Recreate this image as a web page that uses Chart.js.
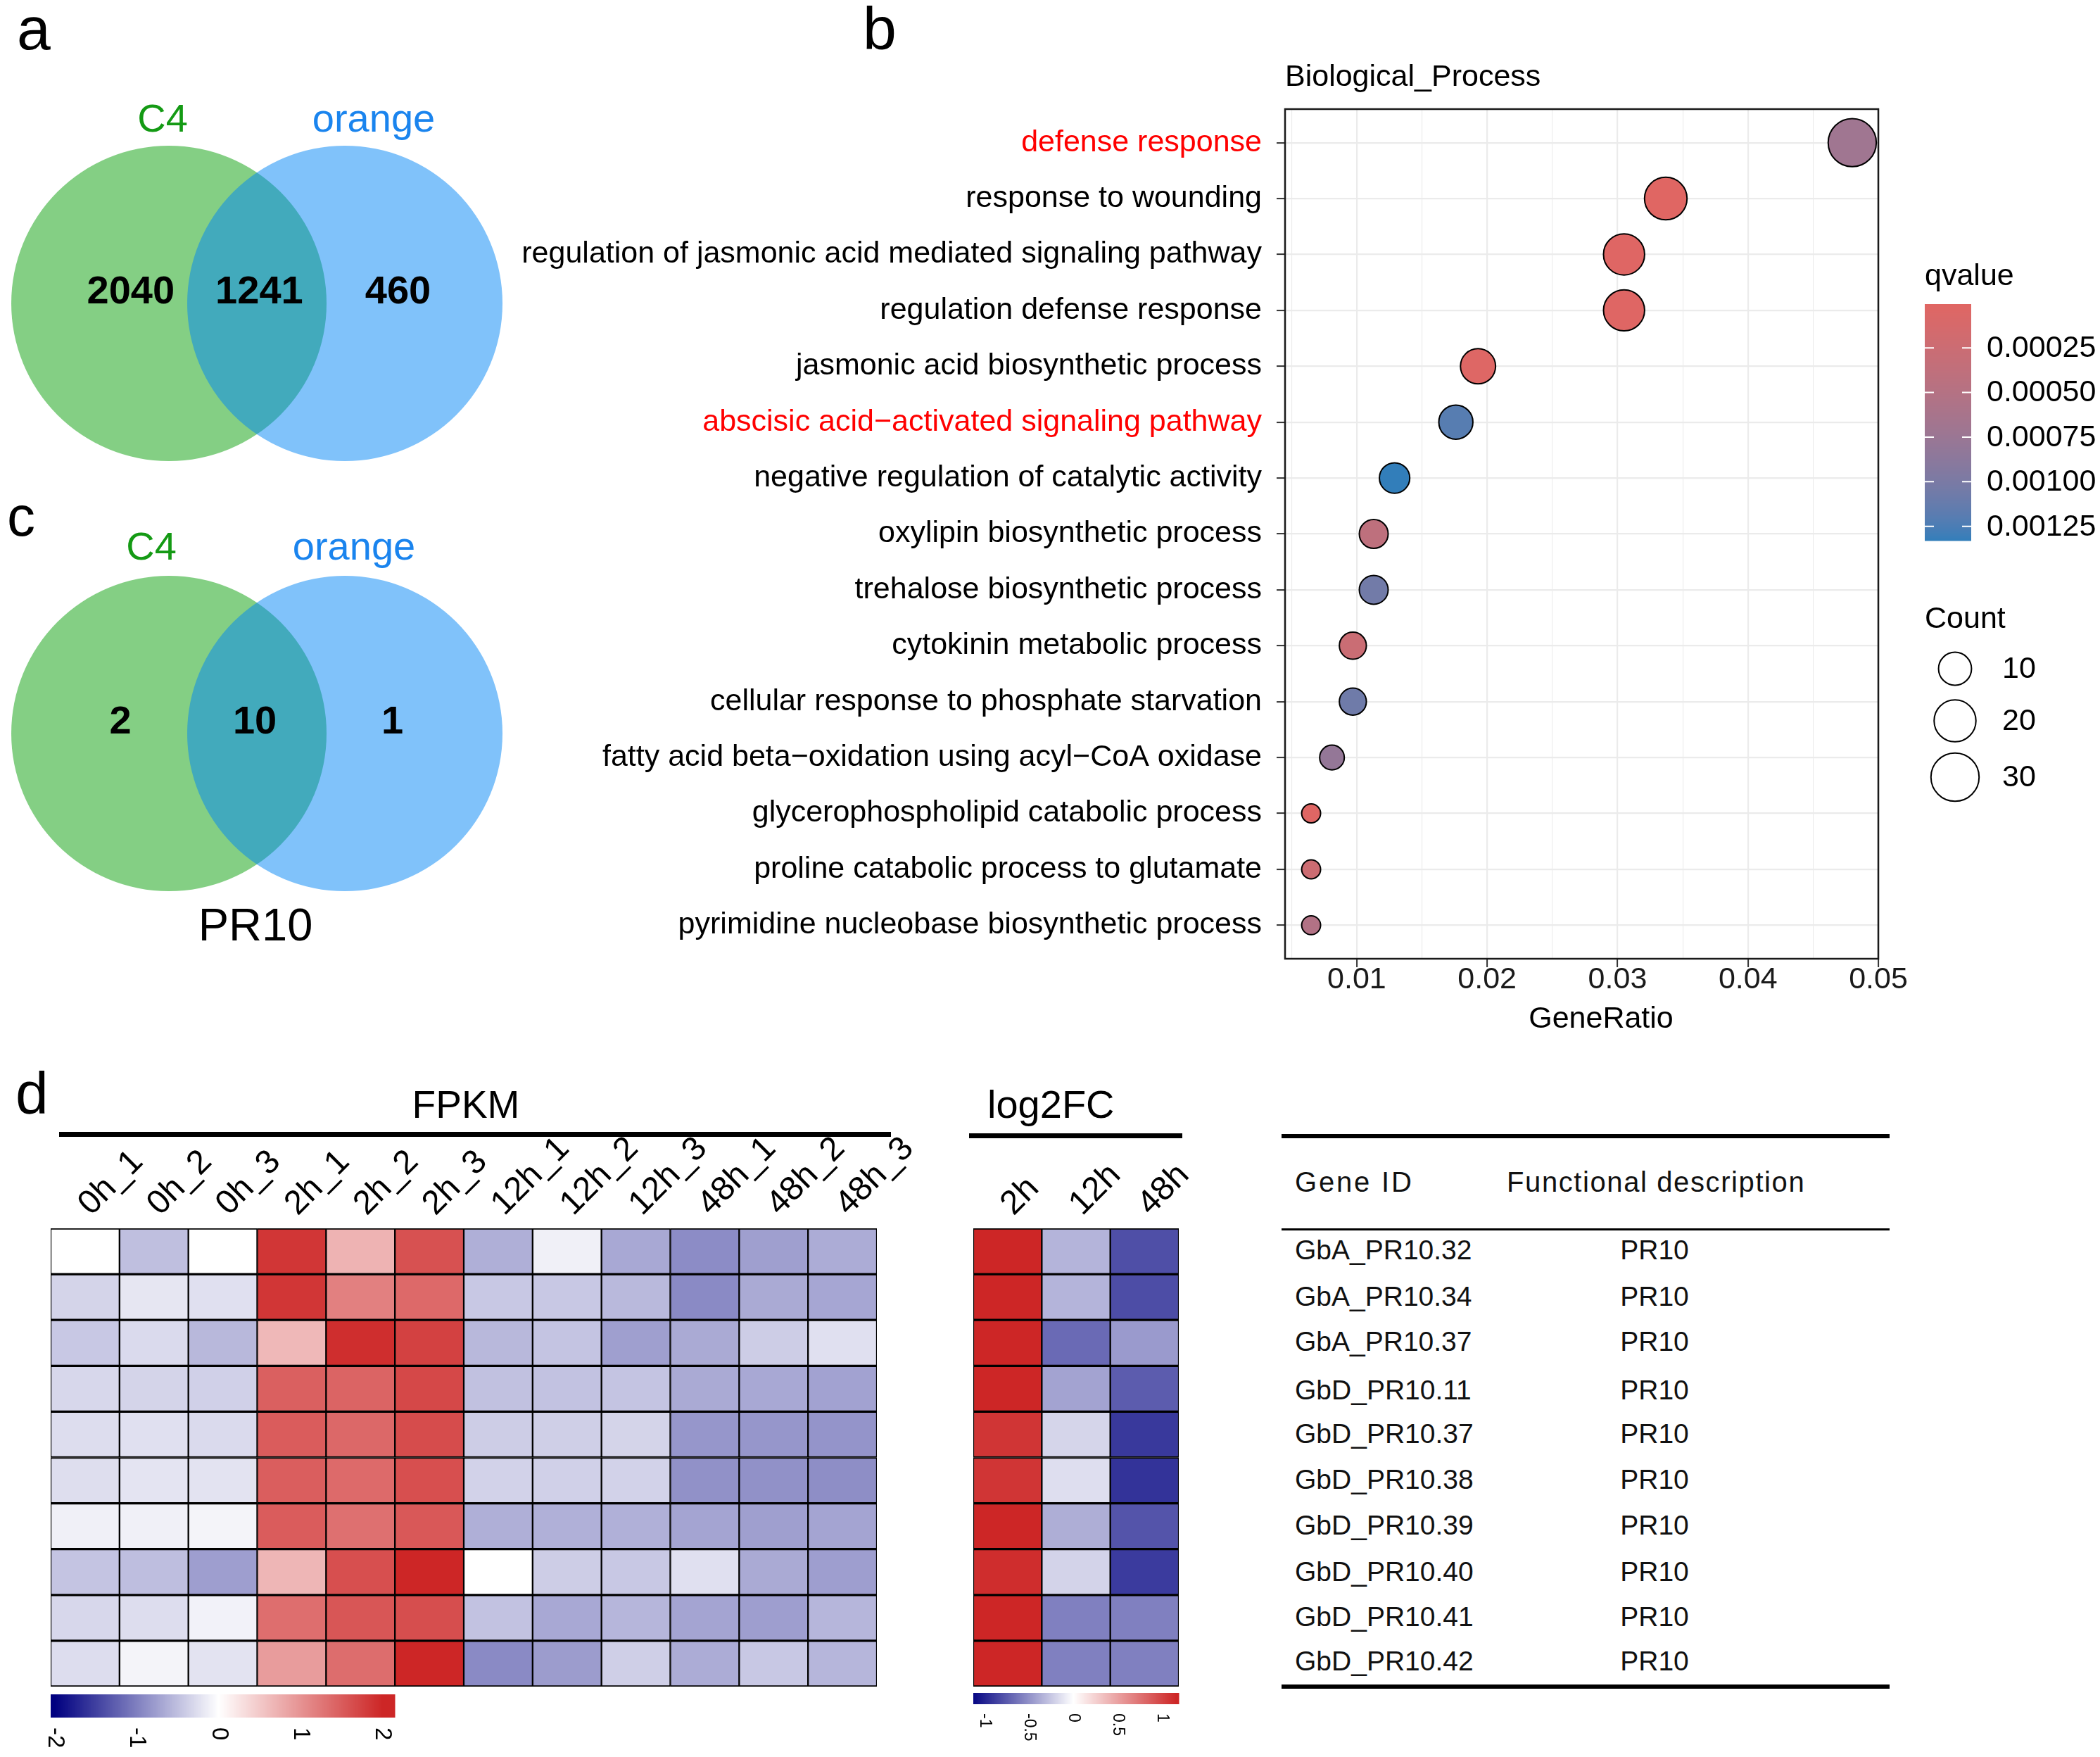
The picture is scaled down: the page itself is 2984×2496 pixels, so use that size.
<!DOCTYPE html>
<html>
<head>
<meta charset="utf-8">
<script src="https://cdn.jsdelivr.net/npm/chart.js@4.4.1/dist/chart.umd.min.js"></script>
<style>
  html, body { margin:0; padding:0; background:#fff; }
  body { position:relative; width:2984px; height:2496px; overflow:hidden; font-family:'Liberation Sans', Arial, sans-serif; }
  canvas { position:absolute; }
  .rule { position:absolute; background:#000; }
</style>
</head>
<body>
<canvas id="vennA" width="740" height="560" style="left:0;top:150px;"></canvas>
<canvas id="vennC" width="740" height="560" style="left:0;top:761px;"></canvas>
<canvas id="dot" width="2284" height="1500" style="left:700px;top:0;"></canvas>
<canvas id="fpkm" width="1300" height="896" style="left:0;top:1600px;"></canvas>
<canvas id="fc" width="400" height="896" style="left:1340px;top:1600px;"></canvas>
<script>
// ---------------- DATA ----------------
const VENN_SETS = ['C4', 'orange'];
const VENN_A_COUNTS = [2040, 1241, 460];
const VENN_C_COUNTS = [2, 10, 1];
const VENN_C_TITLE = 'PR10';

const TERMS = [
  'defense response',
  'response to wounding',
  'regulation of jasmonic acid mediated signaling pathway',
  'regulation defense response',
  'jasmonic acid biosynthetic process',
  'abscisic acid\u2212activated signaling pathway',
  'negative regulation of catalytic activity',
  'oxylipin biosynthetic process',
  'trehalose biosynthetic process',
  'cytokinin metabolic process',
  'cellular response to phosphate starvation',
  'fatty acid beta\u2212oxidation using acyl\u2212CoA oxidase',
  'glycerophospholipid catabolic process',
  'proline catabolic process to glutamate',
  'pyrimidine nucleobase biosynthetic process'
];
const HIGHLIGHTED = ['defense response', 'abscisic acid\u2212activated signaling pathway'];
const GENE_RATIO = [0.0480, 0.0337, 0.0305, 0.0305, 0.0193, 0.0176, 0.0129, 0.0113, 0.0113, 0.0097, 0.0097, 0.0081, 0.0065, 0.0065, 0.0065];
const COUNT      = [30, 21, 19, 19, 12, 11, 8, 7, 7, 6, 6, 5, 4, 4, 4];
const QVALUE     = [0.00070, 0.000005, 0.00002, 0.00002, 0.00003, 0.00120, 0.00133, 0.00040, 0.00105, 0.00027, 0.00107, 0.00080, 0.00002, 0.00024, 0.00052];
const X_MAJOR = [0.01, 0.02, 0.03, 0.04, 0.05];
const X_MINOR = [0.005, 0.015, 0.025, 0.035, 0.045];
const Q_BREAKS = [0.00025, 0.00050, 0.00075, 0.00100, 0.00125];
const COUNT_BREAKS = [10, 20, 30];

const FPKM_COLS = ['0h_1','0h_2','0h_3','2h_1','2h_2','2h_3','12h_1','12h_2','12h_3','48h_1','48h_2','48h_3'];
const FPKM = [
  [ 0.00,-0.50, 0.00, 1.85, 0.70, 1.60,-0.63,-0.12,-0.68,-0.90,-0.75,-0.65],
  [-0.34,-0.20,-0.24, 1.85, 1.17, 1.38,-0.43,-0.43,-0.55,-0.92,-0.67,-0.70],
  [-0.43,-0.29,-0.56, 0.65, 1.93, 1.75,-0.56,-0.46,-0.75,-0.67,-0.39,-0.24],
  [-0.31,-0.34,-0.37, 1.47, 1.43, 1.69,-0.49,-0.48,-0.46,-0.67,-0.68,-0.73],
  [-0.27,-0.24,-0.29, 1.50, 1.39, 1.65,-0.39,-0.38,-0.34,-0.82,-0.82,-0.84],
  [-0.26,-0.21,-0.22, 1.48, 1.37, 1.62,-0.35,-0.37,-0.35,-0.86,-0.86,-0.89],
  [-0.12,-0.12,-0.09, 1.50, 1.32, 1.54,-0.63,-0.62,-0.62,-0.71,-0.75,-0.71],
  [-0.46,-0.51,-0.76, 0.67, 1.62, 2.00, 0.00,-0.39,-0.43,-0.24,-0.67,-0.76],
  [-0.31,-0.27,-0.10, 1.34, 1.56, 1.63,-0.48,-0.68,-0.57,-0.71,-0.76,-0.57],
  [-0.27,-0.09,-0.22, 0.91, 1.35, 2.00,-0.92,-0.78,-0.38,-0.65,-0.43,-0.57]
];
const FPKM_LEGEND_TICKS = [-2, -1, 0, 1, 2];

const FC_COLS = ['2h', '12h', '48h'];
const LOG2FC = [
  [1.20,-0.34,-0.80],
  [1.20,-0.34,-0.81],
  [1.20,-0.68,-0.46],
  [1.20,-0.42,-0.74],
  [1.08,-0.19,-0.90],
  [1.08,-0.15,-0.93],
  [1.20,-0.37,-0.78],
  [1.12,-0.20,-0.89],
  [1.20,-0.58,-0.58],
  [1.20,-0.58,-0.58]
];
const FC_LEGEND_TICKS = [-1, -0.5, 0, 0.5, 1];

const GENE_IDS = ['GbA_PR10.32','GbA_PR10.34','GbA_PR10.37','GbD_PR10.11','GbD_PR10.37','GbD_PR10.38','GbD_PR10.39','GbD_PR10.40','GbD_PR10.41','GbD_PR10.42'];
const GENE_DESC = ['PR10','PR10','PR10','PR10','PR10','PR10','PR10','PR10','PR10','PR10'];

// ---------------- HELPERS ----------------
const FONT = "'Liberation Sans', Arial, sans-serif";
Chart.defaults.font.family = FONT;
Chart.defaults.color = '#000';
const W = 2984;

function txt(s, x, baseline, size, o = {}) {
  const d = document.createElement('div');
  d.textContent = s;
  d.style.cssText = `position:absolute;white-space:nowrap;font-family:${FONT};font-size:${size}px;line-height:1;` +
    `color:${o.color || '#000'};font-weight:${o.weight || 'normal'};letter-spacing:${o.spacing || 0}px;top:${baseline - 0.8465 * size}px;`;
  if (o.align === 'center') { d.style.left = x + 'px'; d.style.transform = 'translateX(-50%)'; }
  else if (o.align === 'right') { d.style.right = (W - x) + 'px'; }
  else d.style.left = x + 'px';
  document.body.appendChild(d);
}
function rule(x, y, w, h) {
  const d = document.createElement('div');
  d.className = 'rule';
  d.style.left = x + 'px'; d.style.top = y + 'px'; d.style.width = w + 'px'; d.style.height = h + 'px';
  document.body.appendChild(d);
}
function hex(h) { return [1,3,5].map(i => parseInt(h.substr(i, 2), 16)); }
function toLin(c) { c /= 255; return c <= 0.04045 ? c / 12.92 : Math.pow((c + 0.055) / 1.055, 2.4); }
function fromLin(c) { const v = c <= 0.0031308 ? 12.92 * c : 1.055 * Math.pow(c, 1/2.4) - 0.055; return Math.max(0, Math.min(255, Math.round(v * 255))); }
function rgb2lab(rgb) {
  const [r, g, b] = rgb.map(toLin);
  const X = (0.4124*r + 0.3576*g + 0.1805*b) / 0.95047, Y = 0.2126*r + 0.7152*g + 0.0722*b, Z = (0.0193*r + 0.1192*g + 0.9505*b) / 1.08883;
  const f = t => t > 0.008856 ? Math.cbrt(t) : 7.787 * t + 16/116;
  const fx = f(X), fy = f(Y), fz = f(Z);
  return [116*fy - 16, 500*(fx - fy), 200*(fy - fz)];
}
function lab2rgb([L, a, b]) {
  const fy = (L + 16) / 116, fx = fy + a / 500, fz = fy - b / 200;
  const fi = t => t*t*t > 0.008856 ? t*t*t : (t - 16/116) / 7.787;
  const X = fi(fx) * 0.95047, Y = fi(fy), Z = fi(fz) * 1.08883;
  const r = 3.2406*X - 1.5372*Y - 0.4986*Z, g = -0.9689*X + 1.8758*Y + 0.0415*Z, bb = 0.0557*X - 0.2040*Y + 1.0570*Z;
  return [fromLin(r), fromLin(g), fromLin(bb)];
}
const Q_LOW = rgb2lab(hex('#e06663')), Q_HIGH = rgb2lab(hex('#327eba'));
const Q_MIN = Math.min(...QVALUE), Q_MAX = Math.max(...QVALUE);
function qColor(q) {
  const t = Math.max(0, Math.min(1, (q - Q_MIN) / (Q_MAX - Q_MIN)));
  const lab = Q_LOW.map((v, i) => v + (Q_HIGH[i] - v) * t);
  const [r, g, b] = lab2rgb(lab);
  return `rgb(${r},${g},${b})`;
}
const C_MIN = Math.min(...COUNT), C_MAX = Math.max(...COUNT);
function dotDiameter(c) { // ggplot area palette, range 3..8
  const s = 3 + 5 * Math.sqrt(Math.max(0, (c - C_MIN) / (C_MAX - C_MIN)));
  return 4 + 8.3 * s;
}
function divColor(v, lim) { // navy - white - firebrick3
  const navy = [0, 0, 128], white = [255, 255, 255], red = [205, 38, 38];
  let t = Math.max(-1, Math.min(1, v / lim));
  const end = t < 0 ? navy : red; t = Math.abs(t);
  const c = white.map((w, i) => Math.round(w + (end[i] - w) * t));
  return `rgb(${c[0]},${c[1]},${c[2]})`;
}
const FPKM_LIM = 2.0, FPKM_BAR = [-2.05, 2.15];
const FC_LIM = 1.16, FC_BAR = [-1.13, 1.19];

// ---------------- PANEL LETTERS & TEXT ----------------
txt('a', 24, 70, 86);
txt('b', 1226, 70, 86);
txt('c', 10, 762, 80);
txt('d', 22, 1582, 84);

const GREEN_TXT = '#149a14', BLUE_TXT = '#1a84ee';
txt(VENN_SETS[0], 231, 187, 56, {align: 'center', color: GREEN_TXT});
txt(VENN_SETS[1], 531, 187, 56, {align: 'center', color: BLUE_TXT});
txt(VENN_SETS[0], 215, 795, 56, {align: 'center', color: GREEN_TXT});
txt(VENN_SETS[1], 503, 795, 56, {align: 'center', color: BLUE_TXT});
txt(VENN_C_TITLE, 363, 1336, 65, {align: 'center'});

txt('FPKM', 662, 1589, 55, {align: 'center'});
rule(84, 1608, 1182, 7);
txt('log2FC', 1403, 1588, 56);
rule(1377, 1610, 303, 7);

// table
rule(1821, 1611, 864, 6);
rule(1821, 1745, 864, 3);
rule(1821, 2393, 864, 6);
txt('Gene ID', 1840, 1693, 40, {spacing: 2.8, color: '#111'});
txt('Functional description', 2141, 1693, 40, {spacing: 1.6, color: '#111'});
const ROW_CENTERS = [1775, 1841, 1905, 1974, 2036, 2101, 2166, 2232, 2296, 2359];
GENE_IDS.forEach((g, i) => {
  txt(g, 1840, ROW_CENTERS[i] + 14, 39, {color: '#111'});
  txt(GENE_DESC[i], 2351, ROW_CENTERS[i] + 14, 39, {align: 'center', color: '#111'});
});

// ---------------- VENN (bubble) ----------------
const VENN_CX = [-0.558, 0.558];
const VENN_R_PX = 224;
const VENN_FILL = ['rgba(9,159,9,0.5)', 'rgba(1,133,245,0.5)'];
const VENN_ORDER = [1, 0]; // blue set drawn on top of green
function makeVenn(id, counts, labelX, labelY) {
  const labels = {
    id: 'vennLabels',
    afterDatasetsDraw(chart) {
      const {ctx, scales: {x, y}} = chart;
      ctx.save();
      ctx.font = `bold 56px ${FONT}`; ctx.fillStyle = '#000'; ctx.textAlign = 'center'; ctx.textBaseline = 'middle';
      counts.forEach((c, i) => ctx.fillText(String(c), x.getPixelForValue(labelX[i]), y.getPixelForValue(labelY)));
      ctx.restore();
    }
  };
  new Chart(document.getElementById(id), {
    type: 'bubble',
    data: { datasets: VENN_SETS.map((s, i) => ({
      label: s, data: [{x: VENN_CX[i], y: 0}], order: VENN_ORDER[i],
      backgroundColor: VENN_FILL[i], borderWidth: 0, borderColor: 'rgba(0,0,0,0)',
      radius: VENN_R_PX, hoverRadius: 0, clip: false
    })) },
    options: {
      responsive: false, animation: false, devicePixelRatio: 1, events: [],
      layout: {padding: 0, autoPadding: false},
      plugins: {legend: {display: false}, tooltip: {enabled: false}},
      scales: {
        x: {type: 'linear', display: false, min: -1.6295, max: 1.674},
        y: {type: 'linear', display: false, min: -1.2455, max: 1.2545}
      }
    },
    plugins: [labels]
  });
}
makeVenn('vennA', VENN_A_COUNTS, [-0.80, 0.015, 0.895], 0.07);
makeVenn('vennC', VENN_C_COUNTS, [-0.866, -0.013, 0.86], 0.067);

// ---------------- DOT PLOT ----------------
const DOT_LEFT = 700;
const X_GRID = [...X_MAJOR, ...X_MINOR].sort((a, b) => a - b);
const isMajor = v => X_MAJOR.some(m => Math.abs(m - v) < 1e-9);
const dotDecor = {
  id: 'dotDecor',
  afterDraw(chart) {
    const ctx = chart.ctx, a = chart.chartArea;
    ctx.save();
    ctx.strokeStyle = '#1a1a1a'; ctx.lineWidth = 2.5;
    ctx.strokeRect(a.left, a.top, a.right - a.left, a.bottom - a.top);
    ctx.fillStyle = '#000'; ctx.font = `43px ${FONT}`; ctx.textBaseline = 'alphabetic';
    ctx.textAlign = 'left';
    ctx.fillText('Biological_Process', a.left, 122);
    ctx.textAlign = 'center';
    ctx.fillText('GeneRatio', 2275 - DOT_LEFT, 1460);
    // qvalue colorbar
    const bx = 2735 - DOT_LEFT, bw = 66, by0 = 432, by1 = 768;
    ctx.textAlign = 'left';
    ctx.fillText('qvalue', bx, 405);
    for (let y = by0; y < by1; y++) {
      const q = Q_MIN + (y + 0.5 - by0) / (by1 - by0) * (Q_MAX - Q_MIN);
      ctx.fillStyle = qColor(q);
      ctx.fillRect(bx, y, bw, 1.5);
    }
    ctx.strokeStyle = '#fff'; ctx.lineWidth = 2;
    ctx.fillStyle = '#000'; ctx.textBaseline = 'middle';
    Q_BREAKS.forEach(q => {
      const y = by0 + (q - Q_MIN) / (Q_MAX - Q_MIN) * (by1 - by0);
      ctx.beginPath(); ctx.moveTo(bx, y); ctx.lineTo(bx + 13, y); ctx.moveTo(bx + bw - 13, y); ctx.lineTo(bx + bw, y); ctx.stroke();
      ctx.fillText(q.toFixed(5), 2823 - DOT_LEFT, y + 1);
    });
    // count legend
    ctx.textBaseline = 'alphabetic';
    ctx.fillText('Count', bx, 892);
    const keyY = [950, 1024, 1104];
    ctx.strokeStyle = '#000'; ctx.lineWidth = 2;
    COUNT_BREAKS.forEach((c, i) => {
      const r = (dotDiameter(c) - 2) / 2;
      ctx.beginPath(); ctx.arc(2778 - DOT_LEFT, keyY[i], r, 0, Math.PI * 2);
      ctx.fillStyle = '#fff'; ctx.fill(); ctx.stroke();
      ctx.fillStyle = '#000'; ctx.textBaseline = 'middle';
      ctx.fillText(String(c), 2845 - DOT_LEFT, keyY[i] + 1);
    });
    ctx.restore();
  }
};
new Chart(document.getElementById('dot'), {
  type: 'bubble',
  data: { datasets: [{
    data: TERMS.map((t, i) => ({x: GENE_RATIO[i], y: i + 1, count: COUNT[i], q: QVALUE[i]})),
    backgroundColor: ctx => ctx.raw ? qColor(ctx.raw.q) : '#888',
    borderColor: '#000', borderWidth: 2,
    radius: ctx => ctx.raw ? (dotDiameter(ctx.raw.count) - 2) / 2 : 10
  }] },
  options: {
    responsive: false, animation: false, devicePixelRatio: 1, events: [],
    layout: {padding: {top: 155, right: 315, bottom: 0, left: 0}},
    plugins: {legend: {display: false}, tooltip: {enabled: false}},
    scales: {
      x: {
        type: 'linear', min: 0.0045, max: 0.05,
        afterBuildTicks: s => { s.ticks = X_GRID.map(v => ({value: v})); },
        afterFit: s => { s.height = 138; },
        ticks: { callback: v => isMajor(v) ? v.toFixed(2) : '', font: {size: 43}, color: '#1a1a1a', padding: -8, autoSkip: false, maxRotation: 0 },
        grid: { color: '#EBEBEB', lineWidth: c => (c.tick && isMajor(c.tick.value)) ? 2.2 : 1.1,
                tickColor: c => (c.tick && isMajor(c.tick.value)) ? '#333' : 'rgba(0,0,0,0)', tickLength: 12, tickWidth: 2 },
        border: {display: false}
      },
      y: {
        type: 'linear', reverse: true, min: 0.4, max: TERMS.length + 0.6,
        afterBuildTicks: s => { s.ticks = TERMS.map((_, i) => ({value: i + 1})); },
        afterFit: s => { s.width = 1826 - DOT_LEFT; },
        ticks: { callback: (v, i) => TERMS[i], color: c => HIGHLIGHTED.includes(TERMS[c.index]) ? '#FF0000' : '#000',
                 font: {size: 43}, padding: 21, autoSkip: false },
        grid: { color: '#EBEBEB', lineWidth: 2.2, tickColor: '#333', tickLength: 12, tickWidth: 2 },
        border: {display: false}
      }
    }
  },
  plugins: [dotDecor]
});

// ---------------- HEATMAPS ----------------
function colorbar(x0, x1, y0, y1, range, ticks, lim, fontSize, labelY) {
  return {
    id: 'colorbar',
    afterDraw(chart) {
      const ctx = chart.ctx; const [lo, hi] = range;
      ctx.save();
      for (let px = x0; px < x1; px++) {
        const v = lo + (px + 0.5 - x0) / (x1 - x0) * (hi - lo);
        ctx.fillStyle = divColor(v, lim);
        ctx.fillRect(px, y0, 1.5, y1 - y0);
      }
      ctx.fillStyle = '#000'; ctx.font = `${fontSize}px ${FONT}`; ctx.textBaseline = 'middle'; ctx.textAlign = 'left';
      ticks.forEach(t => {
        const px = x0 + (t - lo) / (hi - lo) * (x1 - x0);
        ctx.save(); ctx.translate(px, labelY); ctx.rotate(Math.PI / 2); ctx.fillText(String(t), 0, 0); ctx.restore();
      });
      ctx.restore();
    }
  };
}
function makeHeat(id, cols, matrix, lim, pad, plugin) {
  new Chart(document.getElementById(id), {
    type: 'bar',
    data: {
      labels: cols,
      datasets: matrix.map((row, r) => ({
        data: row.map(() => [r, r + 1]),
        backgroundColor: ctx => divColor(matrix[r][ctx.dataIndex], lim),
        borderColor: '#000',
        borderWidth: {top: 2, bottom: 2, left: 1.5, right: 1.5},
        borderSkipped: false,
        barPercentage: 1, categoryPercentage: 1, grouped: false
      }))
    },
    options: {
      responsive: false, animation: false, devicePixelRatio: 1, events: [],
      layout: {padding: pad},
      plugins: {legend: {display: false}, tooltip: {enabled: false}},
      scales: {
        x: {
          position: 'top',
          grid: {display: false, drawTicks: false}, border: {display: false},
          ticks: {minRotation: 45, maxRotation: 45, font: {size: 48}, color: '#000', padding: 6, labelOffset: 40, autoSkip: false},
          afterFit: s => { s.height = 145; s.paddingLeft = 0; s.paddingRight = 0; }
        },
        y: {type: 'linear', min: 0, max: matrix.length, reverse: true, display: false}
      }
    },
    plugins: [plugin]
  });
}
makeHeat('fpkm', FPKM_COLS, FPKM, FPKM_LIM, {left: 72, right: 54, top: 0, bottom: 100},
  colorbar(72, 561, 807, 840, FPKM_BAR, FPKM_LEGEND_TICKS, FPKM_LIM, 33, 854));
makeHeat('fc', FC_COLS, LOG2FC, FC_LIM, {left: 43, right: 65, top: 0, bottom: 100},
  colorbar(43, 335, 805, 821, FC_BAR, FC_LEGEND_TICKS, FC_LIM, 23, 834));
</script>
</body>
</html>
